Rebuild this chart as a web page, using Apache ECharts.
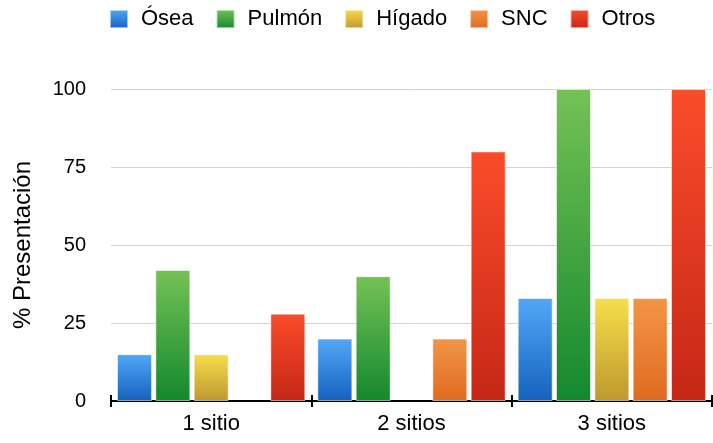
<!DOCTYPE html>
<html>
<head>
<meta charset="utf-8">
<script src="https://cdn.jsdelivr.net/npm/echarts@6/dist/echarts.min.js"></script>
<style>
  html, body { margin: 0; padding: 0; background: #fff; }
  #chart { width: 713px; height: 443px; }
</style>
</head>
<body>
<div id="chart"></div>
<script>
// Categories and series values
const categories = ['1 sitio', '2 sitios', '3 sitios'];
const seriesNames = ['Ósea', 'Pulmón', 'Hígado', 'SNC', 'Otros'];
const osea   = [15, 20, 33];
const pulmon = [42, 40, 100];
const higado = [15, 0, 33];
const snc    = [0, 20, 33];
const otros  = [28, 80, 100];
const yTicks = [0, 25, 50, 75, 100];

const values = [osea, pulmon, higado, snc, otros];
// top / bottom colours of each series gradient
const gradients = [
  ['#52a8f7', '#1462be'],
  ['#74c254', '#13892e'],
  ['#f6de4a', '#bf982e'],
  ['#f39546', '#df6a20'],
  ['#fa4c2a', '#c52716']
];

const font = 'Liberation Sans, Arial, Helvetica, sans-serif';

function grad(c) {
  return new echarts.graphic.LinearGradient(0, 0, 0, 1, [
    { offset: 0, color: c[0] },
    { offset: 1, color: c[1] }
  ]);
}

const chart = echarts.init(document.getElementById('chart'), null, { renderer: 'canvas' });

const series = seriesNames.map((name, i) => ({
  name: name,
  type: 'bar',
  xAxisIndex: 0,
  barGap: '9.5%',
  barCategoryGap: '6%',
  data: values[i].map(v => v === 0 ? null : v),
  itemStyle: {
    color: grad(gradients[i]),
    borderColor: 'rgba(255,255,255,0.55)',
    borderWidth: 1
  },
  emphasis: { disabled: true }
}));

chart.setOption({
  animation: false,
  textStyle: { fontFamily: font },
  legend: {
    top: 3,
    left: 104,
    itemWidth: 18,
    itemHeight: 18,
    itemGap: 22,
    icon: 'rect',
    textStyle: { fontSize: 22, color: '#000', fontFamily: font, padding: [0, 0, 0, 8] },
    data: seriesNames
  },
  grid: { left: 111, right: 1, top: 89, bottom: 42, containLabel: false },
  xAxis: [
    {
      type: 'category',
      data: categories,
      axisLine: { lineStyle: { color: '#000', width: 2 } },
      axisTick: { show: true, length: 6, lineStyle: { color: '#000', width: 2 } },
      axisLabel: { fontSize: 22, color: '#000', margin: 12, fontFamily: font },
      splitLine: { show: false }
    },
    {
      type: 'category',
      data: categories,
      position: 'bottom',
      axisLine: { show: false },
      axisTick: { show: true, inside: true, length: 6, lineStyle: { color: '#000', width: 2 } },
      axisLabel: { show: false },
      splitLine: { show: false }
    }
  ],
  yAxis: {
    type: 'value',
    min: yTicks[0],
    max: yTicks[yTicks.length - 1],
    interval: 25,
    name: '% Presentación',
    nameLocation: 'middle',
    nameGap: 76,
    nameTextStyle: { fontSize: 24, color: '#000', fontFamily: font },
    axisLine: { show: false },
    axisTick: { show: false },
    axisLabel: { fontSize: 20, color: '#000', margin: 25, fontFamily: font },
    splitLine: { lineStyle: { color: '#d4d4d4', width: 1 } }
  },
  series: series
});
</script>
</body>
</html>
